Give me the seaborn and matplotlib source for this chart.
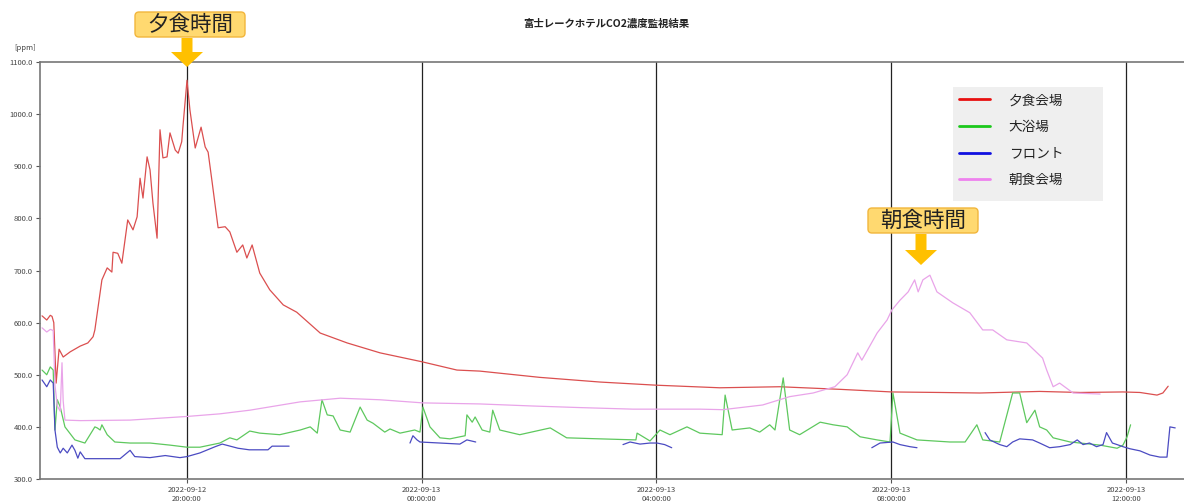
import numpy as np
import pandas as pd
import matplotlib
matplotlib.use('Agg')
import matplotlib.pyplot as plt
import matplotlib.dates as mdates
import matplotlib.patches as mpatches
import matplotlib.transforms as mtransforms
from matplotlib.lines import Line2D
import seaborn as sns

# Time axis: hours counted from 2022-09-12 00:00
BASE = pd.Timestamp('2022-09-12 00:00:00')

# 夕食会場 (dinner hall)
dinner_h = [17.53, 17.61, 17.67, 17.70, 17.73, 17.77, 17.82, 17.89, 18.01, 18.18, 18.31, 18.40, 18.43,
            18.55, 18.64, 18.72, 18.74, 18.82, 18.89, 18.99, 19.08, 19.15, 19.20, 19.25, 19.32, 19.37,
            19.42, 19.49, 19.54, 19.59, 19.66, 19.71, 19.80, 19.85, 19.91, 19.93, 20.00, 20.05, 20.14,
            20.24, 20.31, 20.36, 20.43, 20.53, 20.65, 20.73, 20.85, 20.95, 21.02, 21.11, 21.24, 21.41,
            21.64, 21.87, 22.15, 22.27, 22.44, 22.73, 23.29, 24.00, 24.60, 24.99, 26.01, 27.04, 27.99,
            29.08, 30.10, 31.13, 32.01, 32.83, 33.51, 34.53, 35.22, 35.95, 36.24, 36.53, 36.63, 36.72]
dinner_v = [613, 605, 614, 612, 600, 484, 549, 534, 544, 555, 561, 573, 586,
            682, 705, 697, 735, 733, 714, 797, 778, 803, 877, 839, 918, 893,
            829, 762, 970, 916, 918, 964, 931, 925, 947, 975, 1065, 1008, 935,
            975, 937, 927, 868, 782, 784, 774, 735, 749, 724, 749, 695, 663,
            634, 620, 592, 580, 573, 561, 542, 525, 509, 507, 495, 486, 480,
            475, 477, 472, 467, 466, 465, 468, 466, 467, 466, 461, 465, 478]

# 大浴場 (bath)
bath_h = [17.53, 17.61, 17.67, 17.72, 17.75, 17.79, 17.84, 17.92, 18.09, 18.26, 18.43, 18.47, 18.52,
          18.55, 18.64, 18.77, 19.03, 19.37, 19.71, 20.00, 20.22, 20.56, 20.73, 20.85, 21.07, 21.24,
          21.58, 21.93, 22.10, 22.22, 22.30, 22.39, 22.49, 22.61, 22.78, 22.95, 23.07, 23.17, 23.37,
          23.46, 23.63, 23.88, 23.97, 24.02, 24.14, 24.31, 24.48, 24.74, 24.77, 24.86, 24.91, 25.03,
          25.16, 25.21, 25.33, 25.67, 26.19, 26.47, 27.04, 27.65, 27.67, 27.89, 28.06, 28.23, 28.52,
          28.74, 29.12, 29.17, 29.29, 29.59, 29.76, 29.93, 30.02, 30.16, 30.27, 30.44, 30.79, 31.01,
          31.25, 31.47, 31.76, 31.98, 32.03, 32.15, 32.44, 33.00, 33.26, 33.46, 33.56, 33.85, 34.07,
          34.19, 34.31, 34.45, 34.53, 34.65, 34.76, 35.05, 35.56, 35.85, 35.95, 36.02, 36.08]
bath_v = [509, 500, 515, 509, 394, 452, 438, 400, 375, 369, 400, 398, 394,
          404, 385, 371, 369, 369, 365, 361, 361, 369, 379, 375, 392, 388,
          385, 394, 400, 388, 452, 423, 421, 394, 390, 438, 413, 407, 390,
          396, 388, 394, 390, 438, 400, 379, 377, 383, 423, 409, 419, 394,
          390, 432, 394, 385, 398, 379, 377, 375, 388, 373, 394, 385, 400,
          388, 385, 461, 394, 398, 390, 404, 394, 494, 394, 385, 409, 404,
          400, 381, 375, 371, 465, 388, 375, 371, 371, 404, 375, 371, 465,
          465, 408, 432, 400, 394, 379, 371, 365, 359, 365, 381, 404]

# フロント (front desk) - logged in several pieces
front_seg = [1] * 30 + [2] * 8 + [3] * 7 + [4] * 6 + [5] * 27
front_h = [17.53, 17.61, 17.67, 17.72, 17.75, 17.79, 17.84, 17.89, 17.96, 18.04, 18.09, 18.14, 18.18,
           18.26, 18.52, 18.86, 19.03, 19.11, 19.37, 19.63, 19.88, 20.00, 20.22, 20.48, 20.60, 20.87,
           21.06, 21.38, 21.45, 21.74,
           23.80, 23.85, 23.92, 23.97, 24.31, 24.65, 24.77, 24.92,
           27.43, 27.55, 27.72, 27.89, 28.01, 28.14, 28.26,
           31.67, 31.81, 32.03, 32.15, 32.32, 32.44,
           33.60, 33.68, 33.85, 33.97, 34.07, 34.19, 34.41, 34.53, 34.70, 34.87, 35.05, 35.17, 35.27,
           35.38, 35.50, 35.61, 35.67, 35.77, 35.85, 35.95, 36.07, 36.24, 36.41, 36.58, 36.70, 36.75,
           36.84]
front_v = [490, 477, 490, 484, 394, 361, 350, 359, 350, 365, 355, 340, 352,
           339, 339, 339, 355, 343, 341, 345, 341, 343, 350, 362, 367, 359,
           356, 356, 363, 363,
           369, 383, 375, 371, 369, 367, 375, 371,
           366, 371, 367, 369, 369, 366, 360,
           360, 369, 371, 366, 362, 360,
           389, 375, 366, 362, 371, 377, 375, 369, 360, 362, 366, 375, 366,
           369, 362, 366, 389, 369, 366, 362, 358, 354, 346, 342, 342, 400,
           398]

# 朝食会場 (breakfast hall)
breakfast_h = [17.53, 17.61, 17.67, 17.72, 17.75, 17.79, 17.84, 17.87, 17.89, 17.92, 18.18, 19.03,
               20.00, 20.56, 21.07, 21.93, 22.61, 23.29, 24.02, 24.99, 25.90, 26.70, 27.60, 28.74,
               29.13, 29.81, 30.27, 30.67, 31.04, 31.25, 31.43, 31.50, 31.76, 31.93, 32.01, 32.15,
               32.29, 32.40, 32.46, 32.54, 32.66, 32.78, 33.05, 33.34, 33.56, 33.73, 33.97, 34.31,
               34.58, 34.65, 34.76, 34.87, 35.10, 35.56]
breakfast_v = [590, 582, 587, 585, 480, 440, 430, 523, 450, 413, 412, 413,
               420, 425, 432, 448, 455, 452, 446, 444, 440, 437, 434, 434,
               433, 442, 458, 465, 477, 500, 542, 528, 580, 605, 624, 643,
               659, 682, 659, 682, 691, 659, 638, 619, 586, 586, 567, 561,
               532, 509, 477, 484, 465, 463]

labels = ['夕食会場', '大浴場', 'フロント', '朝食会場']
line_colors = ['#db4f4f', '#5ec85e', '#4b4bc2', '#e9a4e9']
legend_colors = ['#e81010', '#1cc81c', '#1010e0', '#ee82ee']

# Build one long table
frames = []
for name, hh, vv, seg in [(labels[0], dinner_h, dinner_v, None),
                          (labels[1], bath_h, bath_v, None),
                          (labels[2], front_h, front_v, front_seg),
                          (labels[3], breakfast_h, breakfast_v, None)]:
    d = pd.DataFrame({'hour': hh, 'ppm': vv})
    d['time'] = BASE + pd.to_timedelta(d['hour'], unit='h')
    d['seg'] = seg if seg is not None else 1
    d['place'] = name
    frames.append(d)
df = pd.concat(frames, ignore_index=True)

sns.set_style('white')
plt.rcParams['font.family'] = ['Noto Sans CJK JP', 'DejaVu Sans']

fig = plt.figure(figsize=(11.84, 5.04), dpi=100)
W, H = 1184, 504
ax = fig.add_axes([40 / W, 1 - 479 / H, (W - 40) / W, (479 - 62) / H])

# Plot - one call per location, segments kept apart
for name, col in zip(labels, line_colors):
    sns.lineplot(data=df[df['place'] == name], x='time', y='ppm', units='seg', estimator=None,
                 color=col, linewidth=0.9, ax=ax, legend=False)

ax.set_xlim(BASE + pd.to_timedelta(17.495, unit='h'), BASE + pd.to_timedelta(36.99, unit='h'))
ax.set_ylim(300, 1100)
ax.set_yticks(np.arange(300, 1101, 100))
ax.yaxis.set_major_formatter(matplotlib.ticker.FormatStrFormatter('%.1f'))
ax.xaxis.set_major_locator(mdates.HourLocator(byhour=[0, 4, 8, 12, 16, 20]))
ax.xaxis.set_major_formatter(mdates.DateFormatter('%Y-%m-%d\n%H:%M:%S'))
ax.tick_params(axis='both', labelsize=5.5, labelcolor='#444444', length=3, width=0.8,
               colors='#555555', pad=2, left=True, bottom=True)
ax.set_xlabel('')
ax.set_ylabel('')
ax.grid(axis='x', color='#222222', linewidth=0.9)
ax.grid(axis='y', visible=False)
for s in ['left', 'bottom', 'top']:
    ax.spines[s].set_color('#777777')
    ax.spines[s].set_linewidth(1.2)
ax.spines['right'].set_visible(False)

fig.text(25 / W, 1 - 48 / H, '[ppm]', fontsize=5.5, color='#444444', ha='center', va='center')
fig.text(606 / W, 1 - 24 / H, '富士レークホテルCO2濃度監視結果', fontsize=7.5, fontweight='bold',
         color='#222222', ha='center', va='center')

# pixel coordinates measured from the top-left of the image
pix = mtransforms.IdentityTransform()

# Legend: grey panel drawn by hand (inside the axes, under the legend) so it is as wide as the original
panel = mpatches.Rectangle((953, H - 201), 150, 114, fc='#efefef', ec='none', transform=pix,
                           zorder=4, clip_on=False)
ax.add_patch(panel)
handles = [Line2D([0], [0], color=c, linewidth=2) for c in legend_colors]
leg = ax.legend(handles, labels, loc='upper left', bbox_to_anchor=((953 - 40) / (W - 40), (479 - 87) / 417),
                borderaxespad=0, fontsize=9.8, frameon=False, labelspacing=0.93,
                handlelength=2.3, handletextpad=1.35, borderpad=0.45)
leg.set_zorder(6)
for t in leg.get_texts():
    t.set_color('#222222')


def callout(text, x0, x1, y0, y1, ax_x, a0, a1):
    box = mpatches.FancyBboxPatch((x0, H - y1), x1 - x0, y1 - y0, boxstyle='round,pad=0,rounding_size=4',
                                  fc='#ffd970', ec='#f2b63c', lw=1, transform=pix)
    fig.add_artist(box)
    fig.text((x0 + x1) / 2 / W, 1 - (y0 + y1) / 2 / H, text, fontsize=15.5, color='#222222',
             ha='center', va='center')
    arrow = mpatches.FancyArrow(ax_x, H - a0, 0, -(a1 - a0), width=11, head_width=32,
                                head_length=15, length_includes_head=True,
                                fc='#ffc000', ec='none', transform=pix)
    fig.add_artist(arrow)


callout('夕食時間', 135, 245, 12, 37, 187, 38, 67)
callout('朝食時間', 868, 978, 208, 233, 921, 234, 265)

fig.savefig('out.png', dpi=100)
